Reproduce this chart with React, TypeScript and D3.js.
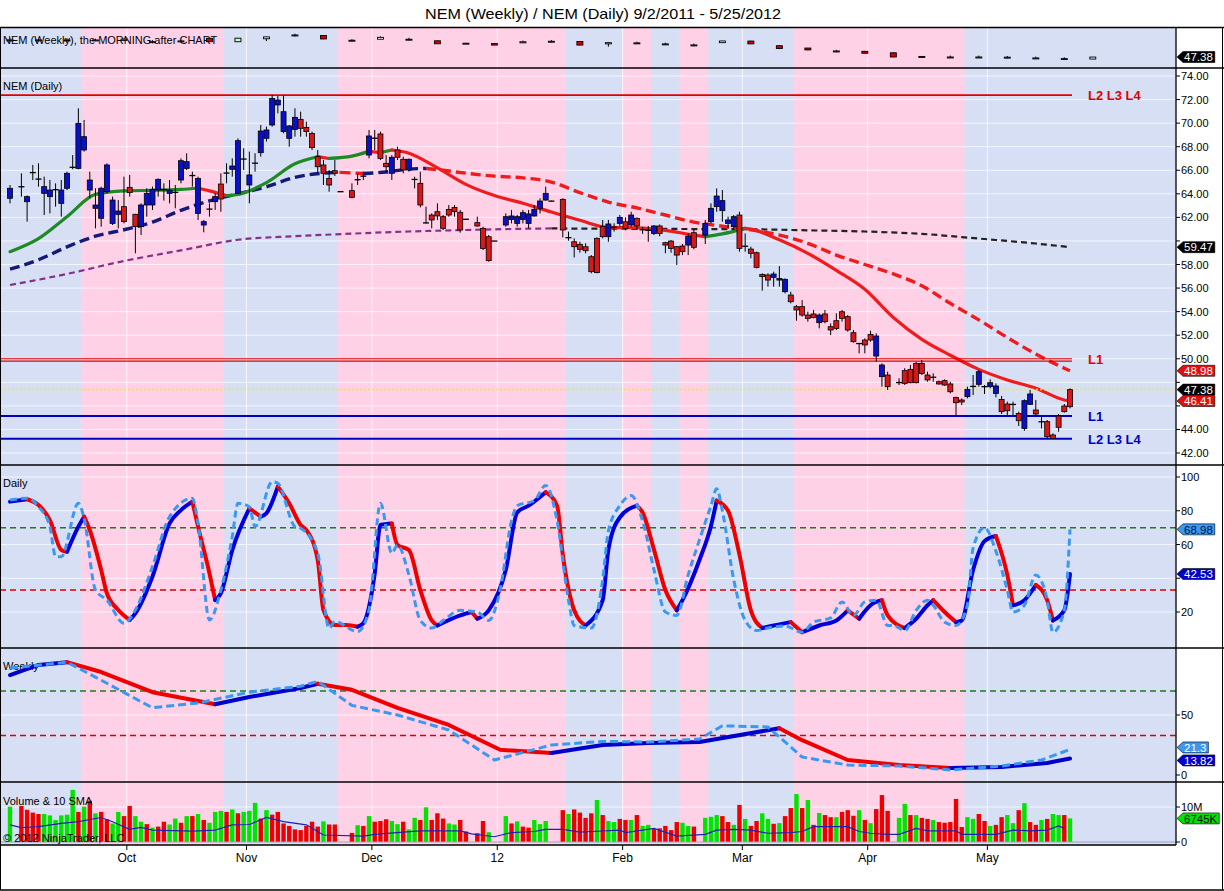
import React, { useEffect, useRef } from "react";
import * as d3 from "d3";

// ---------------- data ----------------
const barOpen: (number | null)[] = [63.62,null,64.55,63.33,65.74,65.20,64.04,63.76,64.30,63.19,
64.47,66.20,66.16,67.72,64.32,62.77,61.92,64.18,61.49,62.26,
62.91,64.55,62.26,61.21,63.05,63.05,64.32,64.40,64.04,64.10,
65.17,66.16,65.50,62.34,61.35,62.68,63.33,64.83,65.74,66.08,
64.04,66.93,64.75,66.59,67.49,68.71,69.84,71.54,69.28,68.71,
69.47,70.32,69.64,69.13,67.15,66.45,65.31,65.96,64.20,null,
64.27,65.17,65.46,67.29,68.70,69.08,66.59,65.74,67.72,66.93,
66.02,65.20,64.89,61.55,62.20,62.48,62.06,62.68,62.85,62.43,
61.83,null,61.55,61.07,60.36,60.00,null,61.35,61.83,61.49,
61.83,61.49,62.12,62.77,63.47,63.40,null,63.53,60.30,59.93,
59.71,59.51,58.66,60.22,61.21,60.36,61.15,61.49,61.63,61.35,
61.92,60.93,60.93,60.64,61.27,59.85,59.99,59.51,59.57,59.65,
60.70,null,60.50,61.63,62.91,62.57,61.49,61.21,62.20,59.57,
59.31,59.00,57.16,57.11,56.91,56.68,55.69,55.41,54.42,54.42,
53.71,53.80,53.06,53.80,52.72,53.23,53.99,53.57,52.21,51.30,
51.59,52.07,50.23,48.48,48.62,null,47.97,48.99,49.10,49.61,
49.61,48.62,48.42,48.05,48.14,47.86,46.72,46.50,46.78,47.63,
47.83,47.60,47.63,47.06,46.55,46.16,46.13,45.36,44.09,46.13,
45.65,44.66,44.66,43.53,45.14,45.99,45.93];

const barHigh: (number | null)[] = [64.75,null,65.74,63.85,66.45,66.59,65.46,65.17,64.89,65.17,
65.88,67.29,71.26,70.27,65.88,64.47,64.61,66.59,63.76,63.47,
65.46,65.60,62.30,63.19,64.47,64.61,65.31,64.89,65.17,64.75,
67.01,67.44,65.88,65.46,61.78,63.19,64.04,65.74,66.59,67.01,
68.71,67.86,67.58,67.44,69.84,69.70,72.39,72.30,72.39,69.84,
71.26,70.97,70.12,69.28,67.72,66.87,66.02,66.87,64.20,null,
64.89,65.74,65.88,69.42,69.42,69.28,67.29,67.29,68.00,67.15,
67.00,65.45,65.88,62.91,62.34,63.19,62.20,63.05,63.05,62.63,
61.85,null,62.06,61.21,60.50,60.00,null,62.34,62.63,62.20,
62.63,62.63,63.05,63.62,64.61,63.42,null,63.62,60.79,60.22,
59.93,59.80,58.80,60.30,61.78,61.78,61.50,62.20,62.00,62.48,
62.00,61.20,61.27,61.35,61.40,59.93,60.07,59.57,59.74,60.64,
60.93,null,61.78,63.19,64.46,64.32,62.06,62.20,62.48,60.64,
59.51,59.09,57.25,57.25,57.39,57.87,56.82,55.69,54.56,54.98,
54.00,54.14,53.85,54.14,53.00,53.85,54.14,53.71,52.44,51.31,
51.73,52.38,52.16,49.61,48.90,null,48.34,49.20,49.47,49.75,
49.89,48.90,48.76,48.15,48.25,48.05,46.78,46.64,47.63,48.62,
49.04,47.77,48.25,47.91,46.84,46.36,46.36,45.51,46.55,47.35,
46.50,45.22,44.80,43.67,45.31,46.16,47.49];

const barLow: (number | null)[] = [63.19,null,63.76,61.64,65.17,64.61,62.20,62.34,62.91,62.06,
64.32,66.08,66.08,67.58,63.62,61.07,61.21,64.04,61.35,61.07,
61.49,63.76,58.95,60.50,62.06,62.63,63.76,63.42,63.19,62.77,
64.89,66.02,64.61,61.78,60.73,62.06,62.63,62.48,64.89,65.46,
64.04,66.02,63.19,65.88,67.15,68.43,69.70,70.83,69.13,68.00,
68.85,68.85,68.85,67.72,65.74,64.75,64.18,65.51,64.15,null,
63.62,64.75,65.17,67.01,67.72,66.87,65.88,65.17,66.87,65.74,
65.88,64.46,62.85,61.49,61.07,61.78,60.93,62.06,62.06,60.70,
61.80,null,61.21,59.23,58.24,59.98,null,61.21,61.49,61.21,
61.49,61.07,62.06,62.34,63.42,63.35,null,60.30,60.02,58.60,
59.00,58.95,57.25,57.25,60.22,59.93,60.80,61.21,60.90,61.21,
60.93,60.60,59.93,60.50,60.40,58.95,59.00,57.96,58.80,58.80,
59.29,null,59.74,61.49,62.48,61.63,61.07,60.93,59.09,59.09,
58.52,57.67,55.78,56.12,56.12,56.12,55.55,54.70,53.23,53.57,
53.15,53.43,52.58,53.00,52.01,52.44,53.15,52.30,51.36,50.46,
50.46,51.45,49.75,47.63,47.35,null,47.77,47.77,47.91,47.91,
48.62,48.05,48.05,47.80,47.70,47.06,45.22,46.07,46.64,46.92,
47.63,47.01,47.49,46.72,45.31,45.22,45.22,44.29,43.89,46.07,
45.22,44.09,43.24,43.21,43.81,45.42,45.79];

const barClose: (number | null)[] = [64.47,null,64.60,63.76,65.80,65.25,64.61,64.32,64.35,64.32,
65.74,66.25,69.98,68.85,65.17,63.05,64.47,66.45,63.47,62.54,
61.64,64.10,61.21,63.05,64.04,64.38,65.23,64.35,64.32,64.12,
66.81,66.73,65.55,65.31,61.64,62.70,63.76,63.56,65.76,66.36,
68.51,66.95,65.60,66.60,69.33,69.42,72.10,71.96,70.97,69.76,
70.49,69.56,69.28,67.92,66.30,65.74,64.75,65.74,64.18,null,
63.70,65.20,65.50,68.91,68.72,67.01,66.30,67.10,67.10,66.02,
66.93,65.22,63.05,61.53,61.78,62.12,61.07,62.20,62.48,60.93,
61.84,null,61.27,59.37,58.33,59.99,null,62.06,62.12,62.06,
62.40,62.29,62.68,63.39,64.04,63.38,null,60.93,60.28,59.51,
59.29,59.17,57.39,57.31,60.36,61.44,61.16,62.00,61.07,62.20,
61.27,60.95,60.90,61.27,60.64,59.65,59.37,58.80,59.09,60.41,
59.46,null,61.49,62.77,63.81,63.42,61.78,62.06,59.37,59.55,
58.95,57.76,56.97,56.68,57.19,56.82,56.74,54.84,54.14,53.71,
53.43,53.51,53.71,53.15,52.44,52.58,53.43,52.44,51.45,51.29,
51.17,51.59,51.93,49.47,47.63,null,47.98,47.91,47.97,47.97,
48.76,48.20,48.43,47.86,47.77,47.20,46.27,46.33,47.40,47.65,
48.90,47.63,47.97,47.69,45.51,45.59,46.12,44.74,46.44,47.01,
45.31,44.65,43.38,43.24,44.18,45.51,47.38];

// b = blue body, r = red body, k = doji, - = no bar
const candleTone =
  "b-kbkkbbkb" + "bkbbbbbbbb" + "rrrbbbbkbk" + "bbkbbkbrkb" + "bkbkbbbbbb" +
  "brrrrrrrk-" + "rkkbkrrbrr" + "bkrkrrrrrr" + "k-rrrk-bbb" + "bbbbbk-rkr" +
  "rrrrrbkbrb" + "rkkbrrrrrb" + "r-bbbbbbrk" + "rrrrbbbrrr" + "rrbrrrrrrk" +
  "rrbbr-krrr" + "rrkrrrrrbk" + "bkbbrrkrbb" + "rkrrrrr";

// volume in millions
const volumeM: (number | null)[] = [10.1,null,10.3,9.2,8.4,8.0,8.0,7.6,6.3,7.6,
7.8,14.9,8.6,10.1,11.8,8.2,8.6,6.5,5.3,8.6,
7.4,10.3,7.4,5.8,5.1,4.1,4.4,5.8,5.0,6.7,
5.5,7.4,7.4,8.0,6.3,5.5,8.6,8.9,8.6,9.3,
8.2,8.6,8.9,11.2,6.7,9.1,7.8,8.6,5.3,4.6,
3.6,3.4,4.6,5.8,4.4,5.9,5.0,5.0,null,null,
2.6,4.8,4.6,7.4,5.8,6.0,6.5,6.0,5.1,5.8,
3.6,6.9,6.3,9.9,6.3,8.2,6.7,5.3,5.0,6.3,
3.0,null,2.5,6.0,2.8,null,null,7.4,5.3,5.9,
4.4,4.1,6.3,5.1,6.0,null,null,9.1,8.0,9.3,
8.4,6.9,8.2,12.0,7.7,6.0,5.7,6.6,6.3,6.3,
7.7,4.6,4.9,3.7,3.9,4.6,3.4,5.7,5.5,4.6,
4.4,null,6.9,7.2,7.7,7.4,5.7,4.9,10.6,6.6,
4.6,6.0,8.2,6.6,5.2,5.4,7.4,9.7,13.7,9.7,
12.0,4.9,8.3,7.7,7.1,7.1,8.6,9.1,7.5,9.1,
6.3,5.4,9.4,13.4,8.9,null,6.9,10.9,7.7,7.7,
6.9,6.6,6.3,5.7,5.5,5.7,12.3,4.3,7.1,6.6,
8.0,6.0,4.6,4.9,7.1,7.7,5.4,9.1,11.1,5.7,
4.9,6.3,6.6,8.0,7.7,7.7,6.745];

const volumeTone =
  "g-rrrrgggg" + "ggrgrgrrgg" + "rrggrgrrgg" + "rgrgrgggrg" + "rgggrgrrrr" +
  "rrrrrgrr--" + "rgrgrrrggr" + "ggrgrrrggr" + "r-rrg--grg" + "rrggg--rgr" +
  "rrrgrggrrg" + "rggrrrrrgg" + "r-gggrrgrg" + "rrggrgrrgr" + "grgrrgrrrg" +
  "rgrrr-ggrg" + "rrgrrrrrgg" + "rrgrrggrgr" + "rgrggrg";

const volSmaIdx = [0,2,5,9,12,16,18,21,23,25,32,36,39,42,45,48,52,55,62,64,69,72,79,81,85,88,92,94,97,100,102,107,108,111,113,117,122,124,127,130,133,137,139,141,147,149,151,154,156,159,161,166,167,173,176,179,182,184,185];
const volSmaVal = [4.9,4.1,4.4,5.3,5.8,7.0,5.8,3.6,4.2,3.4,3.1,3.4,4.9,5.0,7.0,5.8,4.9,2.0,1.7,2.2,2.8,3.2,3.2,2.3,1.5,2.7,3.0,3.6,3.6,2.8,3.0,3.4,2.7,3.4,3.9,1.7,2.2,3.4,3.6,3.4,2.5,2.7,3.0,4.4,4.4,3.0,2.5,2.2,2.2,3.9,3.2,3.2,2.2,2.2,3.4,3.2,3.4,4.6,3.9];

// moving averages (sampled bar index / value)
const ma20Idx = [0,5,10,15,20,25,30,33,35,38,40,45,50,54,56,60,63,65,67,70,75,80,85,90,95,100,105,110,115,120,122,125,129,130,135,140,145,150,155,160,165,170,175,180,185,186];
const ma20Val = [59.09,60.2,62.06,63.95,64.25,64.3,64.38,64.47,64.25,63.85,63.95,64.95,66.55,67.15,67.0,67.2,67.6,67.5,67.72,67.45,66.2,64.8,63.85,63.2,62.45,61.75,61.15,61.12,60.9,60.5,60.36,60.6,61.07,61.0,60.1,58.95,57.5,55.9,53.5,51.65,50.3,49.1,48.2,47.5,46.5,46.41];
const ma50Idx = [0,5,10,15,20,25,30,35,40,45,50,55,58,62,66,70,73,75,80,85,90,95,100,105,110,115,120,125,130,135,140,145,150,155,160,165,170,175,180,185,186];
const ma50Val = [57.6,58.4,59.5,60.4,60.95,61.6,62.6,63.4,64.0,64.6,65.4,65.75,65.82,65.72,65.85,66.1,66.15,66.05,65.75,65.5,65.35,65.0,64.1,63.3,62.8,62.2,61.6,61.25,60.95,60.5,59.8,58.8,58.0,57.2,56.2,54.7,53.3,51.8,50.4,49.2,48.98];
const ma200Idx = [0,10,20,30,40,50,60,70,80,90,95,100,110,120,130,140,150,160,170,180,186];
const ma200Val = [56.26,57.2,58.3,59.2,60.1,60.4,60.62,60.8,60.93,61.03,61.06,61.05,61.03,61.01,60.99,60.9,60.8,60.6,60.2,59.78,59.47];

// daily stochastic
const dKIdx = [0,3,5,7,9,10,12,13,14,16,17,19,21,22,25,28,30,32,33,35,36,37,39,42,44,45,47,49,51,52,54,55,57,59,61,62,64,65,67,68,70,72,74,75,79,81,82,84,87,89,91,94,96,97,99,101,104,105,107,110,111,113,115,117,118,121,123,124,126,128,130,132,134,137,139,142,145,147,149,151,153,154,157,159,161,162,164,166,167,169,171,173,175,176,178,180,182,183,185,186];
const dKVal = [85.4,86.8,83.4,74.5,56.7,55.7,70.6,76.5,68.6,44.9,31.1,21.2,15.3,19.2,41,72.5,80.4,85.4,70.6,42.9,27.1,31.1,56.7,81.4,76.5,78.5,94.3,84.4,71.6,68.6,50.8,21.2,12.3,12.3,11.3,13.3,42.9,71.6,72.5,59.7,56.7,33,15,12,18,20,16,21,45,79,83,91,83,54,21,12,27,57,76,83,79,57,33,21,27,51,71,86,80,54,21,10.5,12,14,8,12,15,21,16,24,27,18,10.5,16,24,27,20,14,15,45,62,65,42,24,27,36,27,15,21,42.53];
const dDIdx = [0,3,5,7,8,9,12,13,15,17,20,22,25,28,32,33,35,37,39,40,42,43,46,47,50,51,54,56,57,61,63,65,67,68,70,72,74,76,79,82,84,86,88,89,92,94,96,98,99,102,104,105,107,109,111,113,115,117,119,121,123,124,125,127,129,131,133,136,139,141,144,146,148,150,152,154,155,157,159,161,162,164,166,168,169,171,173,175,176,178,180,182,183,185,186];
const dDVal = [86.4,87.4,82.4,70.6,52.8,52.8,84.4,75.5,33,27.1,13.3,21.2,46.9,76.5,87.4,72.5,15.3,33,64.6,84.4,82.4,70.6,97.2,96.2,70.6,69.6,54.8,10.3,14.3,8.4,21.2,84.4,54.8,59.7,42,15,10.5,15,21,20,15,33,74,83,86,95,74,27,12,10.5,39,68,83,89,74,45,20,18,42,63,83,93,80,39,15,9,10.5,11.7,8,14,16.5,26,18,26,27,12,12,9,21,27,24,14,12,24,58,70,56,33,20,24,42,27,8,21,68.98];

// weekly stochastic
const wKIdx = [0,5,10,16,25,36,42,51,54,60,68,77,86,95,104,112,121,135,139,147,156,165,174,182,186];
const wKVal = [83.3,91.7,94,85.8,69,59,65,72.5,76,71,56,41.7,21,18.3,25,26.7,27.5,39,29,12.5,8.3,5.8,6.7,10,13.82];
const wDIdx = [0,10,16,25,33,42,51,54,60,68,77,85,95,104,112,121,125,133,139,147,156,165,174,181,186];
const wDVal = [89,94,79,56,60,69,74,78,58,50,37.5,12.5,25,28,27.5,30,41,40,15,8.3,7.5,4.2,7.5,12.5,21.3];

// weekly candles (one per 5 daily slots)
const wOpen = [65.5,65.6,65.7,65.6,65.2,63.8,64.5,67.5,63.8,67.0,70.9,70.5,64.4,66.5,66.3,64.8,62.0,61.8,62.6,63.3,64.0,61.5,61.6,60.6,60.2,62.8,64.5,59.5,57.0,53.7,53.5,51.9,48.0,46.6,46.6,47.0,45.7,44.9,45.2];
const wHigh = [67.5,67.0,67.5,67.0,67.8,65.5,66.0,67.8,67.8,69.2,72.4,70.8,66.5,69.5,68.0,65.0,62.5,62.0,65.0,65.5,64.3,63.0,63.8,62.8,61.8,64.8,64.8,59.8,57.2,55.0,53.7,52.2,48.2,48.9,48.9,48.5,47.8,47.0,47.5];
const wLow = [63.8,64.0,64.0,64.5,65.0,62.0,63.0,63.6,63.5,64.5,69.5,66.5,64.2,66.3,65.0,61.4,61.6,60.0,62.4,63.1,60.0,58.5,61.4,60.4,58.8,62.5,61.2,56.2,54.7,52.5,51.2,47.2,47.2,46.4,46.4,45.8,45.5,44.7,45.0];
const wClose = [65.8,65.8,65.6,65.7,66.5,63.9,64.7,63.9,67.6,69.0,71.1,66.8,65.4,68.5,66.5,61.6,62.2,60.2,63.8,64.3,60.2,62.8,62.6,61.5,60.4,64.6,61.5,56.5,55.0,53.9,51.4,47.4,47.4,47.4,47.4,47.2,46.4,45.7,47.3];

const monthLabels = ["Oct", "Nov", "Dec", "12", "Feb", "Mar", "Apr", "May"];
const monthStartIdx = [21, 42, 64, 86, 108, 129, 151, 172];
const pinkStart = [13, 58, 108, 118, 138];
const pinkEnd = [37, 97, 112, 122, 167];

const priceTicks = [42,44,46,48,50,52,54,56,58,60,62,64,66,68,70,72,74];
const stochTicks = [20, 40, 60, 80, 100];
const wStochTicks = [0, 50];
const volTicks = [0, 10];
const stochLevels = [70, 33];

const upperLevel = 72.38;
const redL1 = [50.0, 49.8];
const blueL1 = 45.14;
const blueL234 = 43.21;
const lastPrice = 47.38;

// ---------------- layout ----------------
const W = 1224, H = 891, AX = 1176;
const PANEL: Record<string, [number, number]> = {
  weekly: [28, 68], main: [68, 465], stoch: [465, 648], wstoch: [648, 782], vol: [782, 845],
};
const BLUE = "#d7dff5", PINK = "#ffd1e7";
const FONT = "'Liberation Sans', Arial, sans-serif";

function segLines(g: any, idx: number[], vals: number[], xs: any, ys: any, up: string, down: string,
  width: number, dash: string | null, curve: any) {
  const runs: { c: string; pts: [number, number][] }[] = [];
  for (let j = 0; j < idx.length - 1; j++) {
    const c = vals[j + 1] > vals[j] ? up : down;
    const p0: [number, number] = [xs(idx[j]), ys(vals[j])];
    const p1: [number, number] = [xs(idx[j + 1]), ys(vals[j + 1])];
    const last = runs[runs.length - 1];
    if (last && last.c === c) last.pts.push(p1);
    else runs.push({ c, pts: [p0, p1] });
  }
  const line = d3.line().curve(curve);
  runs.forEach((r) => {
    g.append("path").attr("d", line(r.pts)).attr("fill", "none").attr("stroke", r.c)
      .attr("stroke-width", width).attr("stroke-dasharray", dash)
      .attr("stroke-linejoin", "round").attr("stroke-linecap", dash ? "butt" : "round");
  });
}

function marker(g: any, y: number, text: string, bg: string, fg: string) {
  const grp = g.append("g");
  const path = grp.append("path");
  const t = grp.append("text").attr("x", AX + 8).attr("y", y + 4.2).attr("font-size", 11.5)
    .attr("font-family", FONT).attr("fill", fg).text(text);
  const tw = (t.node() as SVGTextElement).getComputedTextLength();
  const x0 = AX + 1, x1 = AX + 7, x2 = AX + 10 + tw, h = 11;
  path.attr("d", `M${x0},${y} L${x1},${y - h / 2} L${x2},${y - h / 2} L${x2},${y + h / 2} L${x1},${y + h / 2} Z`)
    .attr("fill", bg).attr("stroke", "#000").attr("stroke-width", 0.6);
}

function draw(svgEl: SVGSVGElement) {
  const svg = d3.select(svgEl);
  svg.selectAll("*").remove();
  svg.append("rect").attr("width", W).attr("height", H).attr("fill", "#fff");

  const x = d3.scaleLinear().domain([0, 186]).range([10, 1070]);
  const yMain = d3.scaleLinear().domain([42, 74]).range([453, 76]);
  const yWeek = d3.scaleLinear().domain([47.38, 72]).range([57, 34.1]);
  const yStoch = d3.scaleLinear().domain([20, 100]).range([612, 477]);
  const yWStoch = d3.scaleLinear().domain([0, 50]).range([775, 715]);
  const yVol = d3.scaleLinear().domain([0, 10]).range([842, 807]);

  const defs = svg.append("defs");
  Object.entries(PANEL).forEach(([k, [t, b]]) => {
    defs.append("clipPath").attr("id", "clip-" + k).append("rect")
      .attr("x", 0).attr("y", t).attr("width", AX).attr("height", b - t);
  });

  Object.entries(PANEL).forEach(([k, [t, b]]) => {
    svg.append("rect").attr("x", 0).attr("y", t).attr("width", AX).attr("height", b - t).attr("fill", BLUE);
    pinkStart.forEach((s, j) => {
      svg.append("rect").attr("x", x(s - 0.5)).attr("y", t)
        .attr("width", x(pinkEnd[j] + 0.5) - x(s - 0.5)).attr("height", b - t).attr("fill", PINK);
    });
    monthStartIdx.forEach((m) => {
      svg.append("line").attr("x1", x(m - 0.5)).attr("x2", x(m - 0.5)).attr("y1", t).attr("y2", b)
        .attr("stroke", "#fff").attr("stroke-opacity", 0.75).attr("stroke-width", 1);
    });
  });

  const hgrid = (vals: number[], ys: any, t: number, b: number) => vals.forEach((v) => {
    const yy = ys(v);
    if (yy <= t || yy >= b) return;
    svg.append("line").attr("x1", 0).attr("x2", AX).attr("y1", yy).attr("y2", yy)
      .attr("stroke", "#fff").attr("stroke-opacity", 0.7);
  });
  hgrid(priceTicks, yMain, 68, 465);
  hgrid(stochTicks, yStoch, 465, 648);
  hgrid([50], yWStoch, 648, 782);
  hgrid([10], yVol, 782, 845);

  // ---------- weekly strip ----------
  svg.append("text").attr("x", 3).attr("y", 44).attr("font-size", 11).attr("font-family", FONT)
    .text("NEM (Weekly), the MORNING after CHART");
  const gW = svg.append("g").attr("clip-path", "url(#clip-weekly)");
  wOpen.forEach((o, k) => {
    const cx = x(k * 5), c = wClose[k];
    gW.append("line").attr("x1", cx).attr("x2", cx).attr("y1", yWeek(wHigh[k])).attr("y2", yWeek(wLow[k]))
      .attr("stroke", "#000").attr("stroke-width", 1);
    const top = yWeek(Math.max(o, c)), bot = yWeek(Math.min(o, c));
    const fill = c < o ? "#d40000" : (k === 8 ? "#bfffbf" : "#ffffff");
    gW.append("rect").attr("x", cx - 3).attr("y", top).attr("width", 6).attr("height", Math.max(1, bot - top))
      .attr("fill", fill).attr("stroke", "#000").attr("stroke-width", 0.9);
  });

  // ---------- main panel ----------
  svg.append("text").attr("x", 3).attr("y", 90).attr("font-size", 11).attr("font-family", FONT).text("NEM (Daily)");
  const gM = svg.append("g").attr("clip-path", "url(#clip-main)");

  segLines(gM, ma200Idx, ma200Val, x, yMain, "#86308a", "#222222", 2.2, "6,4", d3.curveMonotoneX);
  segLines(gM, ma50Idx, ma50Val, x, yMain, "#141a78", "#ee1c1c", 3.4, "10,5", d3.curveMonotoneX);
  segLines(gM, ma20Idx, ma20Val, x, yMain, "#1d8a24", "#ee1c1c", 3.2, null, d3.curveMonotoneX);

  const xEnd = x(186) + 2;
  gM.append("line").attr("x1", 0).attr("x2", xEnd).attr("y1", yMain(upperLevel)).attr("y2", yMain(upperLevel))
    .attr("stroke", "#e00000").attr("stroke-width", 1.6);
  redL1.forEach((v) => gM.append("line").attr("x1", 0).attr("x2", xEnd).attr("y1", yMain(v)).attr("y2", yMain(v))
    .attr("stroke", "#e00000").attr("stroke-width", 1.2));
  [blueL1, blueL234].forEach((v) => gM.append("line").attr("x1", 0).attr("x2", xEnd).attr("y1", yMain(v)).attr("y2", yMain(v))
    .attr("stroke", "#0000c0").attr("stroke-width", 2));
  gM.append("line").attr("x1", 0).attr("x2", AX).attr("y1", yMain(lastPrice)).attr("y2", yMain(lastPrice))
    .attr("stroke", "#f2f200").attr("stroke-width", 1.5).attr("stroke-dasharray", "2,2");

  barOpen.forEach((o, i) => {
    const tone = candleTone[i];
    if (o == null || tone === "-") return;
    const h = barHigh[i] as number, l = barLow[i] as number, c = barClose[i] as number;
    const cx = x(i);
    gM.append("line").attr("x1", cx).attr("x2", cx).attr("y1", yMain(h)).attr("y2", yMain(l))
      .attr("stroke", "#000").attr("stroke-width", 1);
    if (tone === "k") {
      gM.append("line").attr("x1", cx - 3).attr("x2", cx + 3).attr("y1", yMain(c)).attr("y2", yMain(c))
        .attr("stroke", "#000").attr("stroke-width", 1.3);
    } else {
      const top = yMain(Math.max(o, c)), bot = yMain(Math.min(o, c));
      gM.append("rect").attr("x", cx - 2.5).attr("y", top).attr("width", 5).attr("height", Math.max(1.5, bot - top))
        .attr("fill", tone === "b" ? "#0a10c8" : "#d81818").attr("stroke", "#000").attr("stroke-width", 0.8);
    }
  });

  const lab = (yy: number, t: string, col: string) => svg.append("text").attr("x", 1088).attr("y", yy + 5)
    .attr("font-size", 13).attr("font-weight", "bold").attr("font-family", FONT).attr("fill", col).text(t);
  lab(yMain(upperLevel), "L2 L3 L4", "#e00000");
  lab(yMain(redL1[0]), "L1", "#e00000");
  lab(yMain(blueL1), "L1", "#0000c8");
  lab(yMain(blueL234), "L2 L3 L4", "#0000c8");

  // ---------- daily stochastic ----------
  svg.append("text").attr("x", 3).attr("y", 487).attr("font-size", 11).attr("font-family", FONT).text("Daily");
  const gS = svg.append("g").attr("clip-path", "url(#clip-stoch)");
  gS.append("line").attr("x1", 0).attr("x2", AX).attr("y1", yStoch(stochLevels[0])).attr("y2", yStoch(stochLevels[0]))
    .attr("stroke", "#1f7a1f").attr("stroke-width", 1.5).attr("stroke-dasharray", "6,4");
  gS.append("line").attr("x1", 0).attr("x2", AX).attr("y1", yStoch(stochLevels[1])).attr("y2", yStoch(stochLevels[1]))
    .attr("stroke", "#dd0000").attr("stroke-width", 1.5).attr("stroke-dasharray", "6,4");
  segLines(gS, dKIdx, dKVal, x, yStoch, "#0000dd", "#ee0000", 4, null, d3.curveMonotoneX);
  segLines(gS, dDIdx, dDVal, x, yStoch, "#3a98f0", "#3a98f0", 3, "7,4", d3.curveMonotoneX);

  // ---------- weekly stochastic ----------
  svg.append("text").attr("x", 3).attr("y", 670).attr("font-size", 11).attr("font-family", FONT).text("Weekly");
  const gWS = svg.append("g").attr("clip-path", "url(#clip-wstoch)");
  gWS.append("line").attr("x1", 0).attr("x2", AX).attr("y1", yWStoch(stochLevels[0])).attr("y2", yWStoch(stochLevels[0]))
    .attr("stroke", "#1f7a1f").attr("stroke-width", 1.5).attr("stroke-dasharray", "6,4");
  gWS.append("line").attr("x1", 0).attr("x2", AX).attr("y1", yWStoch(stochLevels[1])).attr("y2", yWStoch(stochLevels[1]))
    .attr("stroke", "#dd0000").attr("stroke-width", 1.5).attr("stroke-dasharray", "6,4");
  segLines(gWS, wKIdx, wKVal, x, yWStoch, "#0000cc", "#ee0000", 4, null, d3.curveLinear);
  segLines(gWS, wDIdx, wDVal, x, yWStoch, "#3a98f0", "#3a98f0", 3, "8,4", d3.curveLinear);

  // ---------- volume ----------
  const gV = svg.append("g").attr("clip-path", "url(#clip-vol)");
  volumeM.forEach((v, i) => {
    if (v == null) return;
    gV.append("rect").attr("x", x(i) - 2.2).attr("y", yVol(v)).attr("width", 4.4).attr("height", yVol(0) - yVol(v))
      .attr("fill", volumeTone[i] === "g" ? "#00e400" : "#ee0000");
  });
  gV.append("line").attr("x1", 0).attr("x2", AX).attr("y1", yVol(0)).attr("y2", yVol(0)).attr("stroke", "#a0a0b8");
  const smaLine = d3.line<number>().x((d, j) => x(volSmaIdx[j])).y((d) => yVol(d)).curve(d3.curveLinear);
  gV.append("path").attr("d", smaLine(volSmaVal)).attr("fill", "none").attr("stroke", "#2020b0").attr("stroke-width", 1.2);
  svg.append("text").attr("x", 3).attr("y", 805).attr("font-size", 11).attr("font-family", FONT).text("Volume & 10 SMA");
  svg.append("text").attr("x", 3).attr("y", 842).attr("font-size", 11).attr("font-family", FONT).text("© 2012 NinjaTrader, LLC");

  // ---------- frame ----------
  const hline = (yy: number, x2: number, w = 1.3) => svg.append("line").attr("x1", 0).attr("x2", x2)
    .attr("y1", yy).attr("y2", yy).attr("stroke", "#000").attr("stroke-width", w);
  hline(27.5, W);
  hline(68, W); hline(465, W); hline(648, W); hline(782, W);
  hline(845, AX);
  hline(890, W);
  svg.append("line").attr("x1", AX).attr("x2", AX).attr("y1", 27).attr("y2", 845).attr("stroke", "#000").attr("stroke-width", 1.3);
  svg.append("line").attr("x1", 0.5).attr("x2", 0.5).attr("y1", 27).attr("y2", 890).attr("stroke", "#000");
  svg.append("line").attr("x1", 1222.5).attr("x2", 1222.5).attr("y1", 27).attr("y2", 890).attr("stroke", "#000");

  // ---------- right axis ----------
  const mainMarks = [ma200Val[ma200Val.length - 1], ma50Val[ma50Val.length - 1], lastPrice, ma20Val[ma20Val.length - 1]].map((v) => yMain(v));
  const stochMarks = [dDVal[dDVal.length - 1], dKVal[dKVal.length - 1]].map((v) => yStoch(v));
  const axisLabel = (yy: number, t: string, hidden: number[]) => {
    svg.append("line").attr("x1", AX).attr("x2", AX + 4).attr("y1", yy).attr("y2", yy).attr("stroke", "#000");
    if (hidden.some((m) => Math.abs(m - yy) < 9)) return; // covered by a value marker
    svg.append("text").attr("x", AX + 5).attr("y", yy + 4).attr("font-size", 11).attr("font-family", FONT).text(t);
  };
  priceTicks.forEach((v) => axisLabel(yMain(v), v.toFixed(2), mainMarks));
  stochTicks.forEach((v) => axisLabel(yStoch(v), String(v), stochMarks));
  wStochTicks.forEach((v) => axisLabel(yWStoch(v), String(v), []));
  volTicks.forEach((v) => axisLabel(yVol(v), v === 0 ? "0" : v + "M", []));

  marker(svg, mainMarks[0], "59.47", "#000", "#fff");
  marker(svg, mainMarks[1], "48.98", "#e01010", "#fff");
  marker(svg, mainMarks[2], "47.38", "#000", "#fff");
  marker(svg, mainMarks[3], "46.41", "#e01010", "#fff");
  marker(svg, yWeek(lastPrice), "47.38", "#000", "#fff");
  marker(svg, stochMarks[0], "68.98", "#3a98f0", "#001050");
  marker(svg, stochMarks[1], "42.53", "#0000c8", "#fff");
  marker(svg, yWStoch(wDVal[wDVal.length - 1]) - 2, "21.3", "#3a98f0", "#fff");
  marker(svg, yWStoch(wKVal[wKVal.length - 1]) + 2, "13.82", "#0000c8", "#fff");
  marker(svg, yVol(volumeM[volumeM.length - 1] as number), "6745K", "#00e400", "#000");

  // ---------- bottom axis ----------
  monthStartIdx.forEach((m, j) => {
    const xx = x(m - 0.5);
    svg.append("line").attr("x1", xx).attr("x2", xx).attr("y1", 845).attr("y2", 850).attr("stroke", "#000");
    svg.append("text").attr("x", xx).attr("y", 862).attr("text-anchor", "middle").attr("font-size", 12)
      .attr("font-family", FONT).text(monthLabels[j]);
  });

  // ---------- title ----------
  svg.append("text").attr("x", 425).attr("y", 19).attr("font-size", 15)
    .attr("font-family", "'Liberation Sans Narrow', 'Liberation Sans', Arial, sans-serif")
    .attr("textLength", 356).attr("lengthAdjust", "spacingAndGlyphs")
    .text("NEM (Weekly) / NEM (Daily)  9/2/2011 - 5/25/2012");
}

export default function App() {
  const ref = useRef<SVGSVGElement>(null);
  useEffect(() => {
    if (ref.current) draw(ref.current);
  }, []);
  return (
    <div style={{ position: "absolute", left: 0, top: 0, width: W, height: H, background: "#fff" }}>
      <svg ref={ref} width={W} height={H} style={{ display: "block" }} />
    </div>
  );
}
